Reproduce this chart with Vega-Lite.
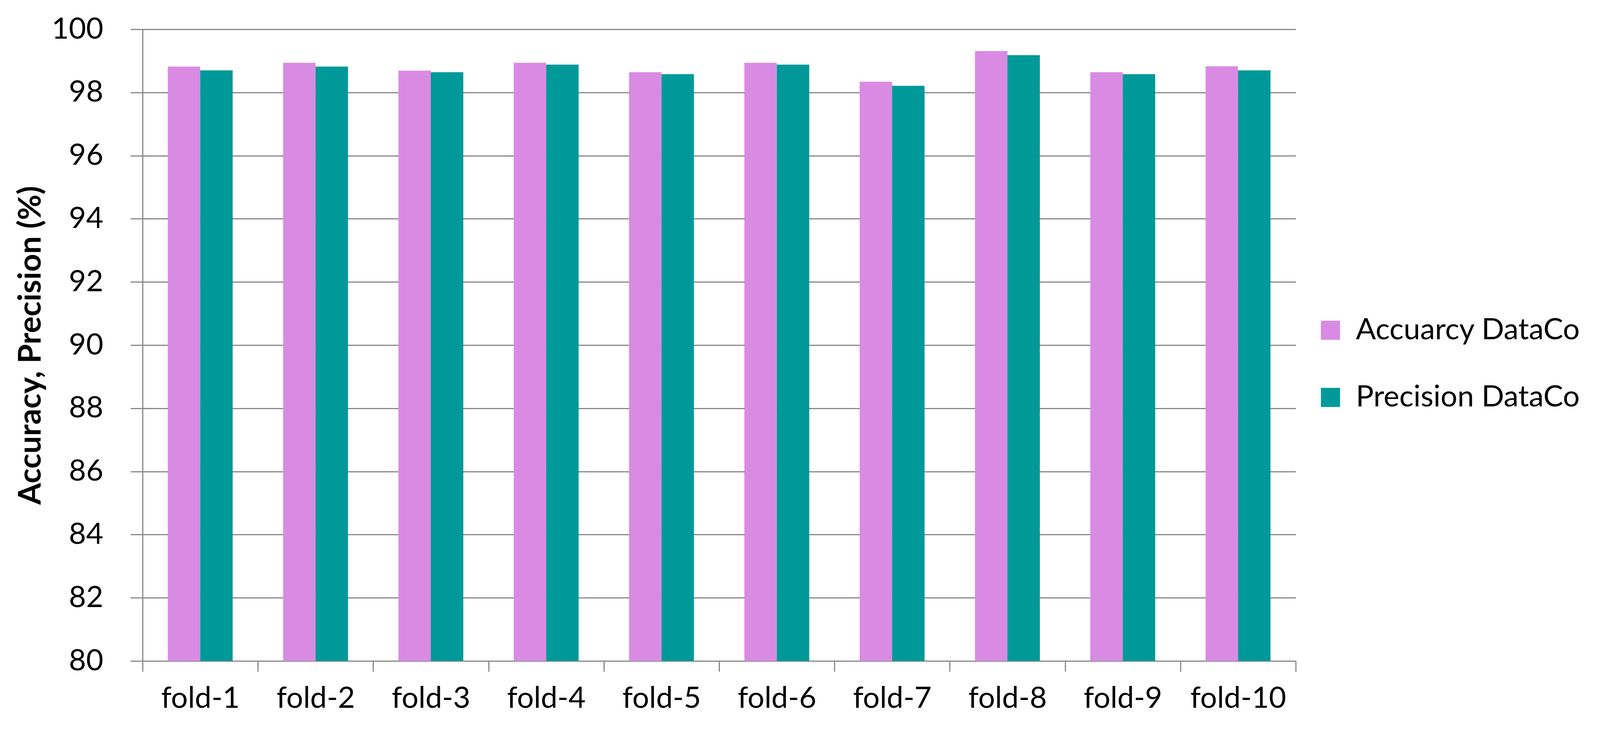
{
  "$schema": "https://vega.github.io/schema/vega-lite/v6.json",
  "autosize": {"type": "none"},
  "padding": {"left": 365, "top": 75, "right": 862, "bottom": 182},
  "width": 2952,
  "height": 1618,
  "background": "white",
  "config": {
    "view": {"stroke": null},
    "font": "Lato",
    "axis": {
      "domainColor": "#898989",
      "domainWidth": 3,
      "tickColor": "#898989",
      "tickWidth": 3,
      "gridColor": "#898989",
      "gridWidth": 3,
      "labelFont": "Lato",
      "labelFontSize": 76,
      "labelColor": "#000000",
      "labelLimit": 0,
      "titleFont": "Lato",
      "titleColor": "#000000"
    },
    "legend": {
      "labelFont": "Lato",
      "labelFontSize": 76,
      "labelColor": "#000000",
      "labelLimit": 0,
      "padding": 0
    }
  },
  "data": {
    "values": [
      {"fold": "fold-1", "series": "Accuarcy DataCo", "value": 98.82},
      {"fold": "fold-1", "series": "Precision DataCo", "value": 98.70},
      {"fold": "fold-2", "series": "Accuarcy DataCo", "value": 98.94},
      {"fold": "fold-2", "series": "Precision DataCo", "value": 98.82},
      {"fold": "fold-3", "series": "Accuarcy DataCo", "value": 98.69},
      {"fold": "fold-3", "series": "Precision DataCo", "value": 98.64},
      {"fold": "fold-4", "series": "Accuarcy DataCo", "value": 98.94},
      {"fold": "fold-4", "series": "Precision DataCo", "value": 98.88},
      {"fold": "fold-5", "series": "Accuarcy DataCo", "value": 98.64},
      {"fold": "fold-5", "series": "Precision DataCo", "value": 98.58},
      {"fold": "fold-6", "series": "Accuarcy DataCo", "value": 98.94},
      {"fold": "fold-6", "series": "Precision DataCo", "value": 98.88},
      {"fold": "fold-7", "series": "Accuarcy DataCo", "value": 98.34},
      {"fold": "fold-7", "series": "Precision DataCo", "value": 98.21},
      {"fold": "fold-8", "series": "Accuarcy DataCo", "value": 99.31},
      {"fold": "fold-8", "series": "Precision DataCo", "value": 99.18},
      {"fold": "fold-9", "series": "Accuarcy DataCo", "value": 98.64},
      {"fold": "fold-9", "series": "Precision DataCo", "value": 98.58},
      {"fold": "fold-10", "series": "Accuarcy DataCo", "value": 98.83},
      {"fold": "fold-10", "series": "Precision DataCo", "value": 98.70}
    ]
  },
  "mark": {"type": "bar", "clip": true},
  "encoding": {
    "x": {
      "field": "fold",
      "type": "nominal",
      "sort": null,
      "scale": {"paddingInner": 0, "paddingOuter": 0},
      "axis": {
        "title": null,
        "labelAngle": 0,
        "tickBand": "extent",
        "tickSize": 27,
        "labelPadding": 32,
        "grid": false
      }
    },
    "xOffset": {
      "field": "series",
      "type": "nominal",
      "scale": {"domain": ["Accuarcy DataCo", "Precision DataCo"], "paddingInner": 0, "paddingOuter": 0.777}
    },
    "y": {
      "field": "value",
      "type": "quantitative",
      "scale": {"domain": [80, 100], "nice": false, "zero": false},
      "axis": {
        "title": "Accuracy, Precision (%)",
        "titleFontSize": 80,
        "titleFontWeight": "bold",
        "titlePadding": 45,
        "values": [80, 82, 84, 86, 88, 90, 92, 94, 96, 98, 100],
        "tickSize": 31,
        "labelPadding": 70,
        "grid": true
      }
    },
    "color": {
      "field": "series",
      "type": "nominal",
      "scale": {"domain": ["Accuarcy DataCo", "Precision DataCo"], "range": ["#D98BE3", "#009999"]},
      "legend": {
        "title": null,
        "orient": "none",
        "legendX": 3003,
        "legendY": 733,
        "symbolType": "square",
        "symbolSize": 2401,
        "symbolStrokeWidth": 0,
        "labelOffset": 27,
        "rowPadding": 96
      }
    }
  }
}
